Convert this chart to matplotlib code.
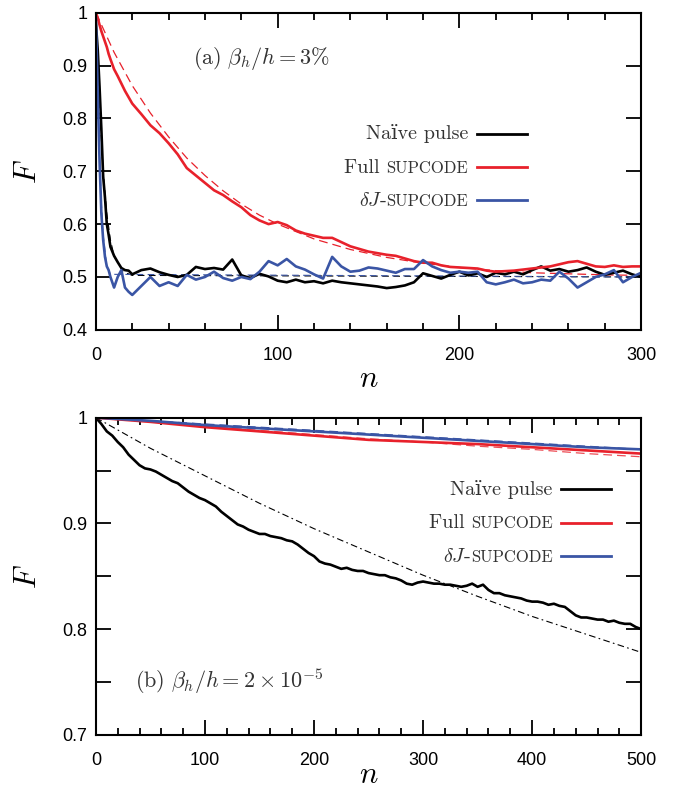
import matplotlib
matplotlib.use("Agg")
import matplotlib.pyplot as plt
from matplotlib.ticker import MultipleLocator, FuncFormatter
from matplotlib.offsetbox import TextArea, HPacker, VPacker, DrawingArea, AnchoredOffsetbox
from matplotlib.lines import Line2D

plt.rcParams['mathtext.fontset'] = 'cm'
plt.rcParams['font.family'] = ['Liberation Sans', 'DejaVu Sans']

# ---------- panel (a): beta_h/h = 3% ----------
n_a = [0, 1, 2, 3, 4, 5, 6, 7, 8, 10, 12, 14, 16, 18, 20,
       25, 30, 35, 40, 45, 50, 55, 60, 65, 70, 75, 80, 85, 90, 95, 100,
       105, 110, 115, 120, 125, 130, 135, 140, 145, 150, 155, 160, 165, 170, 175, 180,
       185, 190, 195, 200, 205, 210, 215, 220, 225, 230, 235, 240, 245, 250,
       255, 260, 265, 270, 275, 280, 285, 290, 295, 300]

naive_a = [0.98, 0.93, 0.86, 0.78, 0.69, 0.65, 0.60, 0.58, 0.557, 0.54, 0.528, 0.517, 0.513, 0.512, 0.505,
           0.513, 0.516, 0.509, 0.504, 0.500, 0.504, 0.519, 0.515, 0.517, 0.514, 0.533, 0.503, 0.498, 0.506, 0.501, 0.493,
           0.490, 0.495, 0.490, 0.492, 0.488, 0.493, 0.490, 0.488, 0.486, 0.484, 0.482, 0.479, 0.481, 0.484, 0.490, 0.507,
           0.502, 0.497, 0.504, 0.510, 0.503, 0.507, 0.500, 0.508, 0.505, 0.510, 0.505, 0.513, 0.520, 0.512,
           0.515, 0.510, 0.513, 0.518, 0.510, 0.504, 0.508, 0.512, 0.505, 0.500]

full_a = [1.0, 0.99, 0.977, 0.965, 0.955, 0.945, 0.935, 0.922, 0.912, 0.893, 0.88, 0.866, 0.852, 0.84, 0.828,
          0.808, 0.787, 0.772, 0.753, 0.732, 0.706, 0.692, 0.678, 0.664, 0.655, 0.643, 0.632, 0.617, 0.607, 0.600, 0.604,
          0.598, 0.588, 0.582, 0.578, 0.574, 0.574, 0.566, 0.558, 0.553, 0.548, 0.545, 0.542, 0.540, 0.535, 0.530, 0.527,
          0.527, 0.522, 0.519, 0.518, 0.517, 0.516, 0.512, 0.510, 0.511, 0.512, 0.514, 0.516, 0.518, 0.520,
          0.524, 0.528, 0.530, 0.525, 0.520, 0.519, 0.522, 0.519, 0.520, 0.520]

dj_a = [0.99, 0.85, 0.72, 0.62, 0.57, 0.538, 0.52, 0.513, 0.50, 0.48, 0.50, 0.513, 0.48, 0.472, 0.466,
        0.483, 0.50, 0.483, 0.49, 0.483, 0.504, 0.495, 0.50, 0.51, 0.498, 0.493, 0.500, 0.496, 0.510, 0.530, 0.522,
        0.534, 0.520, 0.514, 0.505, 0.497, 0.538, 0.520, 0.510, 0.512, 0.518, 0.516, 0.512, 0.508, 0.515, 0.515, 0.532,
        0.520, 0.513, 0.508, 0.510, 0.508, 0.510, 0.490, 0.486, 0.490, 0.495, 0.488, 0.490, 0.495, 0.493,
        0.510, 0.497, 0.480, 0.490, 0.500, 0.505, 0.513, 0.490, 0.500, 0.508]

# fitted curves (dashed) in panel (a)
fit_n_a = [0, 10, 20, 30, 40, 50, 60, 70, 80, 90, 100, 120, 140, 160, 180, 200, 220, 240, 260, 280, 300]
fit_full_a = [1.0, 0.925, 0.862, 0.81, 0.765, 0.725, 0.692, 0.663, 0.638, 0.617, 0.60, 0.572, 0.552,
              0.537, 0.526, 0.518, 0.512, 0.508, 0.506, 0.504, 0.503]
fit_n_naive_a = [0, 2, 4, 6, 8, 10, 15, 20, 300]
fit_naive_a = [1.0, 0.82, 0.70, 0.62, 0.57, 0.54, 0.51, 0.503, 0.5]
fit_n_dj_a = [0, 1, 2, 3, 4, 6, 8, 300]
fit_dj_a = [1.0, 0.85, 0.73, 0.64, 0.58, 0.52, 0.505, 0.5]

# ---------- panel (b): beta_h/h = 2e-5 ----------
n_b = list(range(0, 501, 5))
naive_b = [1.000, 0.994, 0.987, 0.983, 0.977, 0.972, 0.965, 0.960, 0.955, 0.952, 0.951, 0.949, 0.946, 0.943,
           0.940, 0.938, 0.934, 0.930, 0.927, 0.924, 0.922, 0.919, 0.916, 0.911, 0.907, 0.903, 0.899, 0.897,
           0.894, 0.892, 0.890, 0.890, 0.888, 0.887, 0.886, 0.884, 0.883, 0.880, 0.876, 0.872, 0.869, 0.864,
           0.862, 0.861, 0.859, 0.857, 0.858, 0.856, 0.855, 0.855, 0.853, 0.852, 0.851, 0.851, 0.849, 0.848,
           0.846, 0.843, 0.842, 0.844, 0.845, 0.844, 0.843, 0.843, 0.842, 0.842, 0.841, 0.840, 0.841, 0.843,
           0.840, 0.842, 0.837, 0.834, 0.834, 0.832, 0.831, 0.830, 0.829, 0.827, 0.826, 0.826, 0.825, 0.823,
           0.824, 0.822, 0.821, 0.817, 0.813, 0.811, 0.811, 0.810, 0.809, 0.809, 0.807, 0.808, 0.806, 0.805,
           0.805, 0.802, 0.800]

n_b_coarse = [0, 50, 100, 150, 200, 250, 300, 350, 400, 450, 500]
full_b = [1.0, 0.996, 0.991, 0.987, 0.983, 0.979, 0.977, 0.975, 0.972, 0.969, 0.966]
dj_b = [1.0, 0.997, 0.993, 0.990, 0.987, 0.984, 0.981, 0.978, 0.975, 0.972, 0.970]
fit_full_b = [1.0, 0.996, 0.992, 0.988, 0.984, 0.980, 0.977, 0.973, 0.970, 0.966, 0.963]
fit_dj_b = [1.0, 0.997, 0.994, 0.991, 0.988, 0.985, 0.982, 0.979, 0.976, 0.973, 0.970]
fit_naive_b = [1.0, 0.971, 0.945, 0.919, 0.895, 0.873, 0.851, 0.831, 0.812, 0.795, 0.778]

RED = '#e8212b'
BLUE = '#3a55a5'
GREY = '#333333'

fig = plt.figure(figsize=(6.85, 7.91), dpi=100)
ax1 = fig.add_axes([0.140, 0.583, 0.796, 0.401])
ax2 = fig.add_axes([0.140, 0.071, 0.796, 0.401])

# panel (a)
ax1.plot(fit_n_a, fit_full_a, color=RED, lw=0.9, dashes=(7, 4))
ax1.plot(fit_n_naive_a, fit_naive_a, color='black', lw=0.8, dashes=(6, 4))
ax1.plot(fit_n_dj_a, fit_dj_a, color=BLUE, lw=0.8, dashes=(6, 4))
ax1.plot(n_a, naive_a, color='black', lw=1.9)
ax1.plot(n_a, full_a, color=RED, lw=1.9)
ax1.plot(n_a, dj_a, color=BLUE, lw=1.9)

# panel (b)
ax2.plot(n_b_coarse, fit_naive_b, color='black', lw=0.8, dashes=(6, 3, 1.5, 3))
ax2.plot(n_b_coarse, fit_dj_b, color=BLUE, lw=0.9, dashes=(7, 4))
ax2.plot(n_b_coarse, fit_full_b, color=RED, lw=0.9, dashes=(7, 4), alpha=0.8)
ax2.plot(n_b, naive_b, color='black', lw=1.9)
ax2.plot(n_b_coarse, full_b, color=RED, lw=1.9)
ax2.plot(n_b_coarse, dj_b, color=BLUE, lw=1.9)

fmt = FuncFormatter(lambda v, p: '%g' % round(v, 3))
for ax, xmax, ymin, ymaj, ymin_step in [(ax1, 300, 0.4, 0.1, 0.1), (ax2, 500, 0.7, 0.1, 0.05)]:
    ax.set_xlim(0, xmax)
    ax.set_ylim(ymin, 1.0)
    ax.xaxis.set_major_locator(MultipleLocator(100))
    ax.xaxis.set_minor_locator(MultipleLocator(20))
    ax.yaxis.set_major_locator(MultipleLocator(ymaj))
    ax.yaxis.set_minor_locator(MultipleLocator(ymin_step))
    ax.yaxis.set_major_formatter(fmt)
    ax.tick_params(which='both', direction='in', top=True, right=True, width=1.3,
                   labelsize=13, colors='black')
    ax.tick_params(axis='x', which='major', length=10.5, pad=12)
    ax.tick_params(axis='x', which='minor', length=5)
    ax.tick_params(axis='y', which='both', length=10.5, pad=6)
    for s in ax.spines.values():
        s.set_linewidth(1.5)
    ax.set_ylabel(r'$F$', fontsize=22, labelpad=14)

ax1.set_xlabel(r'$n$', fontsize=22, labelpad=0)
ax2.set_xlabel(r'$n$', fontsize=22, labelpad=-6)

ax1.text(0.178, 0.855, r'$\mathrm{(a)}\ \beta_h/h = 3\%$', transform=ax1.transAxes,
         fontsize=16, color=GREY, ha='left', va='center')
ax2.text(0.072, 0.17, r'$\mathrm{(b)}\ \beta_h/h = 2\times 10^{-5}$', transform=ax2.transAxes,
         fontsize=16, color=GREY, ha='left', va='center')


def key(ax, anchor):
    serif = ['cmr10', 'DejaVu Serif']
    big, small = 14.5, 12

    def row(parts, color):
        kids = []
        for txt, size in parts:
            kids.append(TextArea(txt, textprops=dict(fontsize=size, color=GREY, family=serif)))
        da = DrawingArea(42, 10, 0, 0)
        da.add_artist(Line2D([6, 42], [4.2, 4.2], color=color, lw=2.0))
        kids.append(da)
        return HPacker(children=kids, align='baseline', pad=0, sep=0)

    rows = [row([('Naïve pulse', big)], 'black'),
            row([('Full ', big), ('SUPCODE', small)], RED),
            row([(r'$\delta J$-', big), ('SUPCODE', small)], BLUE)]
    box = VPacker(children=rows, align='right', pad=0, sep=11)
    ab = AnchoredOffsetbox(loc='upper right', child=box, frameon=False,
                           bbox_to_anchor=anchor, bbox_transform=ax.transAxes, borderpad=0)
    ax.add_artist(ab)


key(ax1, (0.80, 0.665))
key(ax2, (0.955, 0.82))

fig.savefig('out.png', dpi=100)
